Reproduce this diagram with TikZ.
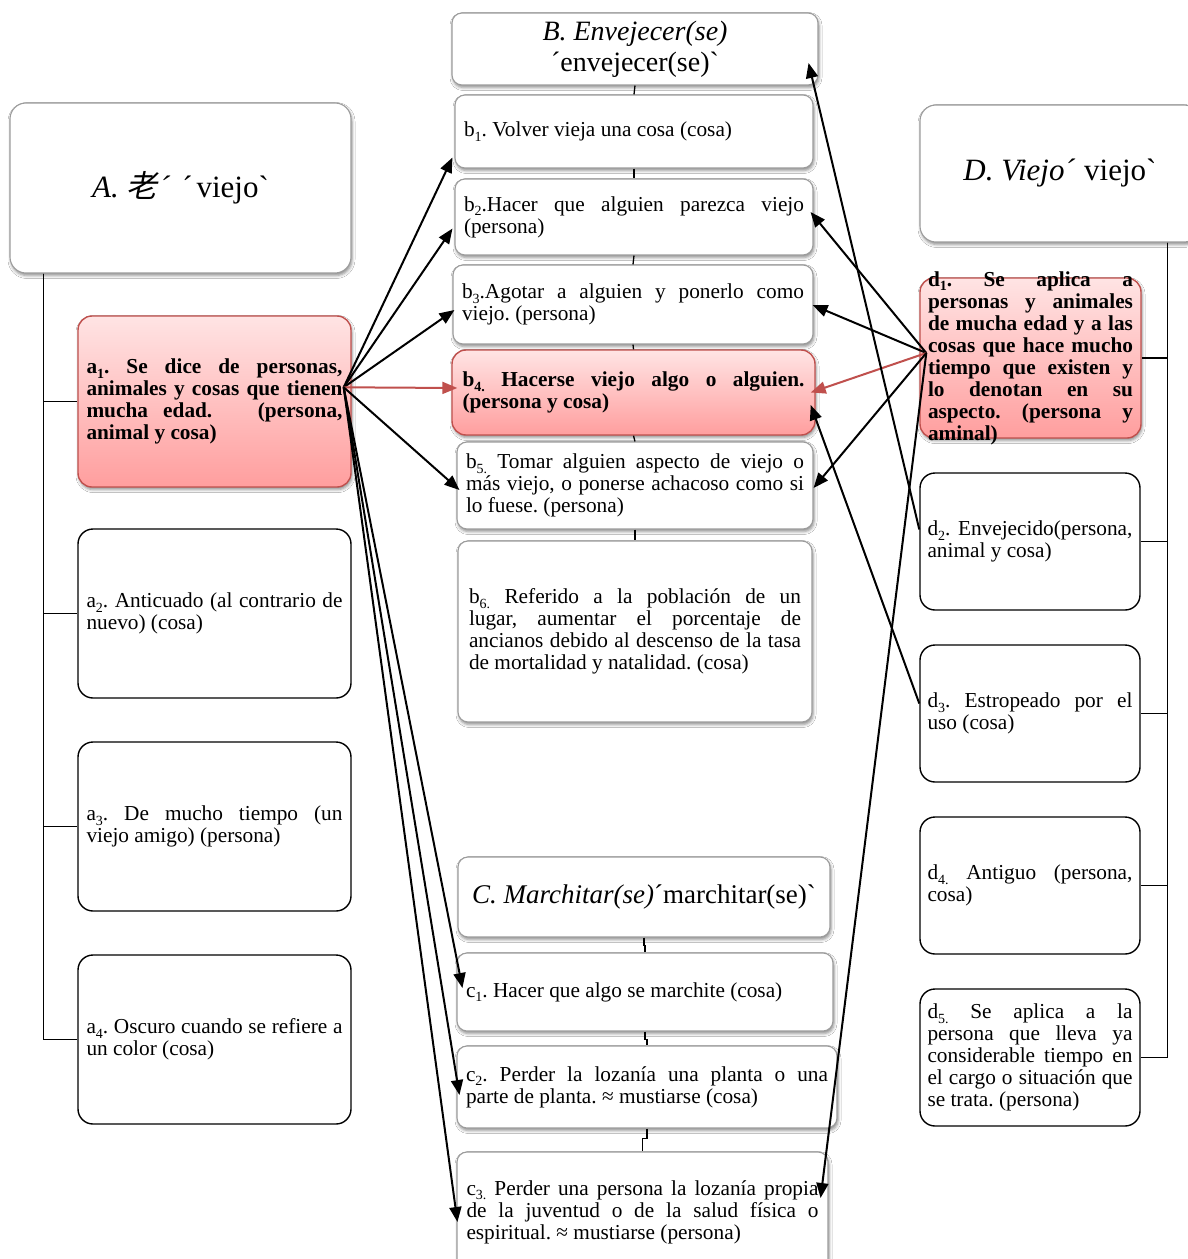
\documentclass[tikz,border=0pt]{standalone}
\usepackage{fontspec}
\setmainfont{Liberation Serif}[Ligatures=TeXOff]
\newfontfamily\cjk{Noto Sans CJK SC}[FakeSlant=0.2]
\usetikzlibrary{arrows.meta,shadows.blur,calc}

\definecolor{accent}{HTML}{C0504D}
\definecolor{rim}{HTML}{9C9C9C}
\definecolor{pinktop}{HTML}{FFE4E4}
\definecolor{pinkbottom}{HTML}{FF9E9E}

\newcommand\bodyfont{\fontsize{21.3}{22}\selectfont}
\newcommand\headfont{\fontsize{28}{31}\selectfont}
\newcommand\bigheadfont{\fontsize{31}{34}\selectfont}
\newcommand\smallheadfont{\fontsize{27}{30}\selectfont}
% lowered index after the item letter
\newcommand\sub[1]{\raisebox{-4.5pt}{\fontsize{14}{14}\selectfont #1}}
\hyphenpenalty=10000 \exhyphenpenalty=10000 \tolerance=9999 \emergencystretch=3em
\frenchspacing

\tikzset{
  softshadow/.style={blur shadow={shadow xshift=1pt, shadow yshift=-2.5pt,
      shadow blur radius=3pt, shadow opacity=45}},
  card/.style={draw=rim, line width=1.1pt, rounded corners=10pt, fill=white,
      softshadow, inner sep=0pt},
  headcard/.style={card, rounded corners=16pt},
  hotcard/.style={draw=accent, line width=1.4pt, rounded corners=14pt,
      top color=pinktop, bottom color=pinkbottom, softshadow, inner sep=0pt},
  plaincard/.style={draw=black, line width=1.4pt, rounded corners=15pt,
      fill=white, inner sep=0pt},
  txt/.style={inner sep=0pt, align=justify, font=\bodyfont},
  headtxt/.style={align=center, font=\headfont},
  link/.style={draw=black, line width=2pt, -{Triangle[length=15pt,width=12pt]}},
  hotlink/.style={draw=accent, line width=2pt,
      -{Triangle[length=15pt,width=12pt]}, accent},
  tree/.style={draw=black, line width=1.8pt},
  stem/.style={draw=black, line width=1.3pt},
}

% a box from corner (#3,#4) to corner (#5,#6), with its text centred in it
\newcommand\card[8]{%
  \node[#2, minimum width={(#5)-(#3)}, minimum height={(#6)-(#4)}] (#1)
    at ({((#3)+(#5))/2},{((#4)+(#6))/2}) {};
  \node[txt, #7] (#1-t) at (#1.center) {#8};%
}

\begin{document}
\begin{tikzpicture}[x=1pt, y=-1pt]
\useasboundingbox (0,0) rectangle (1187,1259);
\fill[white] (0,0) rectangle (1187,1259);

% boxes: column A
\card{A}{headcard}{10}{103}{351}{273}{headtxt, font=\bigheadfont}{\textit{A. {\cjk 老}\hspace{2pt}´}\hspace{12pt}´\hspace{4pt}viejo`}
\card{a1}{hotcard}{78}{316}{351}{487}{text width=256pt}{\bfseries a\sub{1}. Se dice de personas, animales y cosas que tienen mucha edad.\ \ \ (persona, animal y cosa)}
\card{a2}{plaincard}{78}{529}{351}{698}{text width=256pt}{a\sub{2}. Anticuado (al contrario de nuevo) (cosa)}
\card{a3}{plaincard}{78}{742}{351}{911}{text width=256pt}{a\sub{3}. De mucho tiempo (un\linebreak viejo amigo) (persona)}
\card{a4}{plaincard}{78}{955}{351}{1124}{text width=256pt}{a\sub{4}. Oscuro cuando se refiere a un color (cosa)}

% boxes: column B
\card{B}{card}{452}{13}{818}{85}{headtxt}{\textit{B. Envejecer(se)}\\´envejecer(se)`}
\card{b1}{card}{455}{95}{813}{168}{text width=340pt}{b\sub{1}. Volver vieja una cosa (cosa)}
\card{b2}{card}{455}{179}{813}{255}{text width=340pt}{b\sub{2}.Hacer que alguien parezca viejo (persona)}
\card{b3}{card}{453}{265}{813}{344}{text width=342pt}{b\sub{3}.Agotar a alguien y ponerlo como viejo. (persona)}
\card{b4}{hotcard}{452}{350}{815}{435}{text width=342pt}{\bfseries b\sub{4.} Hacerse viejo algo o alguien. (persona y cosa)}
\card{b5}{card}{457}{442}{813}{529}{text width=338pt}{b\sub{5.} Tomar alguien aspecto de viejo o\linebreak más viejo, o ponerse achacoso como si\linebreak lo fuese. (persona)}
\card{b6}{card}{458}{541}{812}{722}{text width=332pt}{b\sub{6.} Referido a la población de un\linebreak lugar, aumentar el porcentaje de\linebreak ancianos debido al descenso de la tasa\linebreak de mortalidad y natalidad. (cosa)}

% boxes: column C
\card{C}{card}{458}{857}{830}{937}{headtxt, font=\smallheadfont}{\textit{C. Marchitar(se)}´marchitar(se)`}
\card{c1}{card}{457}{953}{833}{1031}{text width=358pt}{c\sub{1}. Hacer que algo se marchite (cosa)}
\card{c2}{card}{457}{1046}{837}{1128}{text width=362pt}{c\sub{2}. Perder la lozanía una planta o una\linebreak parte de planta. ≈ mustiarse (cosa)}
\card{c3}{card}{457}{1152}{828}{1272}{text width=352pt}{c\sub{3.} Perder una persona la lozanía propia\linebreak de la juventud o de la salud física o\linebreak espiritual. ≈ mustiarse (persona)}

% boxes: column D
\card{D}{headcard}{920}{105}{1200}{242}{headtxt, font=\bigheadfont}{\textit{D. Viejo´}\hspace{9pt}viejo`}
\card{d1}{hotcard}{920}{278}{1141}{438}{text width=205pt}{\bfseries d\sub{1}. Se aplica a\linebreak personas y animales\linebreak de mucha edad y a las\linebreak cosas que hace mucho\linebreak tiempo que existen y\linebreak lo denotan en su\linebreak aspecto. (persona y\linebreak aminal)}
\card{d2}{plaincard}{920}{473}{1140}{610}{text width=205pt}{d\sub{2}. Envejecido(persona, animal y cosa)}
\card{d3}{plaincard}{920}{645}{1140}{782}{text width=205pt}{d\sub{3}. Estropeado por el uso (cosa)}
\card{d4}{plaincard}{920}{817}{1140}{954}{text width=205pt}{d\sub{4.} Antiguo (persona, cosa)}
\card{d5}{plaincard}{920}{989}{1140}{1126}{text width=205pt}{d\sub{5.} Se aplica a la persona que lleva ya considerable tiempo en el cargo o situación que se trata. (persona)}

% hierarchy lines
\foreach \k in {a1,a2,a3,a4}
  \draw[tree] ($(A.south west)+(34,0)$) |- (\k.west);
\foreach \k in {d1,d2,d3,d4,d5}
  \draw[tree] ($(D.south west)+(248,0)$) |- (\k.east);
\draw[stem] (B.south) -- (b1.north);
\draw[stem] (b1.south) -- (b2.north);
\draw[stem] (b2.south) -- (b3.north);
\draw[stem] (b3.south) -- (b4.north);
\draw[stem] (b4.south) -- (b5.north);
\draw[stem] (b5.south) -- (b6.north);
\draw[stem] (C.south) -- ++(0,8) -| (c1.north);
\draw[stem] (c1.south) -- ++(0,8) -| (c2.north);
\draw[stem] (c2.south) -- ++(0,10) -| (c3.north);

% connector ends
\coordinate (a1s) at ($(a1.north east)+(-8,72)$);
\coordinate (d1s) at ($(d1.west)+(7,-5)$);
\coordinate (d2s) at ($(d2.west)+(0,-12)$);
\coordinate (d3s) at ($(d3.west)+(0,-10)$);

% meanings of A linked to B and C
\draw[link] (a1s) -- ($(b1.south west)+(-2,-11)$);
\draw[link] (a1s) -- ($(b2.south west)+(-2,-27)$);
\draw[link] (a1s) -- ($(b3.west)+(2,5.5)$);
\draw[hotlink] (a1s) -- ($(b4.west)+(6,-4.5)$);
\draw[link] (a1s) -- ($(b5.west)+(3,4.5)$);
\draw[link] (a1s) -- ($(c1.west)+(6,-4)$);
\draw[link] (a1s) -- ($(c2.west)+(3,8)$);
\draw[link] (a1s) -- ($(c3.west)+(1,10)$);

% meanings of D linked to B and C
\draw[link] (d1s) -- ($(b2.east)+(-3,-5)$);
\draw[link] (d1s) -- ($(b3.east)+(-1,0.5)$);
\draw[hotlink] (d1s) -- ($(b4.east)+(-5,0)$);
\draw[link] (d1s) -- ($(b5.east)+(0,2.5)$);
\draw[link] (d1s) -- ($(c3.east)+(-8,-14)$);
\draw[link] (d2s) -- ($(B.east)+(-10,14)$);
\draw[link] (d3s) -- ($(b4.east)+(-5,12.5)$);
\end{tikzpicture}
\end{document}
